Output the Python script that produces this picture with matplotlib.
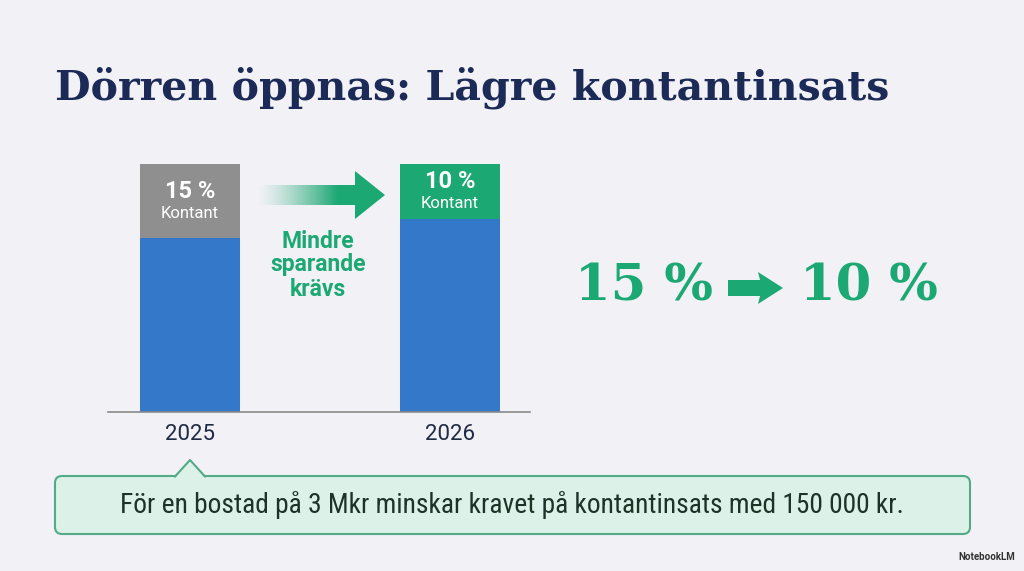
import matplotlib
matplotlib.use("Agg")
import matplotlib.pyplot as plt
import numpy as np
from matplotlib.patches import FancyBboxPatch, Polygon
from matplotlib.lines import Line2D
from matplotlib import font_manager
import logging
logging.getLogger("matplotlib.font_manager").setLevel(logging.ERROR)

# ---------------- data ----------------
years = ["2025", "2026"]
cash_labels = ["15 %", "10 %"]
seg_label = "Kontant"
# segment heights as drawn in the reference (share of full bar height)
loan_height = [70, 78]
cash_height = [30, 22]
title = "Dörren öppnas: Lägre kontantinsats"
arrow_caption = ["Mindre", "sparande", "krävs"]
big_from = "15 %"
big_to = "10 %"
note = "För en bostad på 3 Mkr minskar kravet på kontantinsats med 150 000 kr."
brand = "NotebookLM"

# ---------------- style ----------------
W, H = 1024, 571
BG = "#f1f1f6"
NAVY = "#1b2a56"
BLUE = "#3478c9"
GRAY = "#8f8f8f"
GREEN = "#1ca873"
SANS = ["Roboto", "DejaVu Sans"]
SLAB = ["DejaVu Serif"]
installed = {f.name for f in font_manager.fontManager.ttflist}
COND = (["Roboto Condensed"] if "Roboto Condensed" in installed else []) + SANS

fig = plt.figure(figsize=(W / 100, H / 100), dpi=100, facecolor=BG)

def fx(x):
    return x / W

def fy(y):
    return 1 - y / H

# overlay axes in pixel coordinates for decorations
ov = fig.add_axes([0, 0, 1, 1], zorder=0)
ov.set_autoscale_on(False)
ov.set_xlim(0, W)
ov.set_ylim(H, 0)
ov.axis("off")
ov.patch.set_alpha(0)

# ---------------- bar chart ----------------
ax = fig.add_axes([fx(108), fy(412), (530 - 108) / W, (412 - 164) / H], zorder=2)
ax.set_facecolor("none")
x = np.arange(len(years))
bw = 0.385
ax.bar(x, loan_height, width=bw, color=BLUE, zorder=2)
ax.bar(x, cash_height, bottom=loan_height, width=bw, color=[GRAY, GREEN], zorder=2)
ax.set_xlim(-0.315, 1.3077)
ax.set_ylim(0, 100)
for s in ["top", "left", "right"]:
    ax.spines[s].set_visible(False)
ax.spines["bottom"].set_color("#8a8a8a")
ax.spines["bottom"].set_linewidth(1.2)
ax.set_yticks([])
ax.set_xticks(x, years)
ax.tick_params(axis="x", length=0, pad=9, labelsize=16, labelcolor="#1f2a44")
for lab in ax.get_xticklabels():
    lab.set_family(SANS)

for i in range(len(years)):
    yc = loan_height[i] + cash_height[i] / 2
    ax.annotate(cash_labels[i], (x[i], yc), xytext=(0, 7.3), textcoords="offset points",
                ha="center", va="center", fontsize=17, weight="bold", color="white",
                family=SANS, zorder=3)
    ax.annotate(seg_label, (x[i], yc), xytext=(0, -8.6), textcoords="offset points",
                ha="center", va="center", fontsize=12, color="white",
                family=SANS, zorder=3)

# ---------------- gradient arrow ----------------
gx = np.linspace(0, 1, 200)
alpha = np.clip(gx / 0.8, 0, 1) ** 1.3
rgba = np.zeros((2, 200, 4))
g = matplotlib.colors.to_rgb(GREEN)
rgba[..., 0], rgba[..., 1], rgba[..., 2] = g
rgba[..., 3] = alpha
ov.imshow(rgba, extent=(258, 357, 205, 185), aspect="auto", interpolation="bilinear", zorder=1)
ov.add_patch(Polygon([(355, 171), (385, 195), (355, 219)], closed=True, fc=GREEN, ec="none", zorder=1))
ov.set_xlim(0, W)
ov.set_ylim(H, 0)

for t, yy in zip(arrow_caption, [241, 265, 289]):
    ov.text(318, yy, t, ha="center", va="center", fontsize=16.5, weight="bold",
            color=GREEN, family=SANS)

# ---------------- big numbers ----------------
t_from = ov.text(713, 287, big_from, ha="right", va="center", fontsize=44, weight="bold",
                 color=GREEN, family=SLAB)
t_to = ov.text(800, 287, big_to, ha="left", va="center", fontsize=44, weight="bold",
               color=GREEN, family=SLAB)
ov.add_patch(Polygon([(728, 280), (760, 280), (758, 272), (783, 288), (758, 304),
                      (760, 296), (728, 296)], closed=True, fc=GREEN, ec="none"))

# ---------------- title ----------------
t_title = fig.text(fx(55), fy(88), title, ha="left", va="center", fontsize=34,
                   weight="bold", color=NAVY, family=SLAB)

# ---------------- callout ----------------
FILL = "#dcf2e8"
EDGE = "#52aa86"
ov.add_patch(FancyBboxPatch((55, 476), 915, 58, boxstyle="round,pad=0,rounding_size=7",
                            fc=FILL, ec=EDGE, lw=1.5, zorder=3))
ov.add_patch(Polygon([(175, 478), (190, 460), (205, 478)], closed=True, fc=FILL, ec="none", zorder=4))
ov.add_line(Line2D([175, 190, 205], [476.5, 460, 476.5], color=EDGE, lw=1.5, zorder=5))
t_note = ov.text(512, 505, note, ha="center", va="center", fontsize=15.5, color="#1e3327",
                 family=COND, zorder=6)

ov.text(1015, 557, brand, ha="right", va="center", fontsize=7, weight="bold",
        color="#333333", family=SANS)

# fit widths of a few texts to the reference extents
fig.canvas.draw()
r = fig.canvas.get_renderer()
for t, target in [(t_title, 835), (t_from, 138), (t_to, 138), (t_note, 785)]:
    wdt = t.get_window_extent(r).width
    t.set_fontsize(t.get_fontsize() * target / wdt)

fig.savefig("out.png", dpi=100, facecolor=BG)
